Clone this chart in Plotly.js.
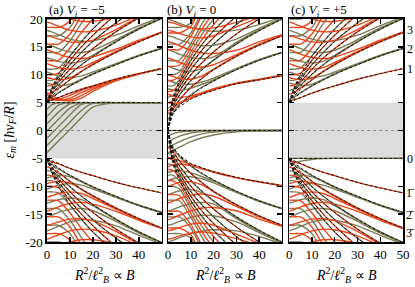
<!DOCTYPE html>
<html><head><meta charset="utf-8">
<script src="https://cdn.plot.ly/plotly-3.0.1.min.js"></script>
<style>html,body{margin:0;padding:0;background:#fff}</style>
</head><body><div id="chart" style="width:415px;height:287px"></div>
<script>
// field axis samples R^2/l_B^2
const xs = [0, 2, 5, 10, 15, 20, 30, 40, 50];

// ---- upper fan (panels a and c) ----
const upRed = [
 [5.3, 5.5, 5.9, 6.7, 7.4, 8.0, 9.2, 10.2, 11.1],
 [6.5, 6.8, 7.6, 9.1, 10.6, 11.8, 14.0, 15.9, 17.6],
 [8.0, 8.1, 8.8, 11.0, 13.0, 14.7, 17.7, 20.2, 22.5],
 [10.0, 10.0, 10.3, 12.6, 15.0, 17.1, 20.8, 23.9, 26.7],
 [12.5, 12.5, 12.6, 14.8, 17.6, 20.0, 24.5, 28.0, 31.0],
 [15.5, 15.5, 15.5, 17.3, 20.6, 23.5, 28.5, 33.0, 37.0],
 [18.5, 18.5, 18.5, 19.7, 23.3, 26.5, 32.0, 37.0, 41.0],
 [9.5, 9.3, 9.1, 9.4, 10.6, 11.9, 14.1, 16.0, 17.6],
 [12.0, 11.7, 11.3, 11.0, 11.3, 12.2, 14.2, 16.0, 17.6],
 [14.5, 14.2, 13.7, 13.1, 12.9, 13.2, 14.6, 16.2, 17.7],
 [17.0, 16.8, 16.4, 15.9, 15.8, 16.2, 18.1, 20.4, 22.6],
 [19.5, 19.2, 18.7, 18.0, 17.7, 17.8, 18.9, 20.7, 22.7],
 [21.5, 21.2, 20.7, 20.0, 19.6, 19.6, 20.3, 21.4, 23.0]
];
const upOlive = [
 [5.6, 6.0, 6.8, 8.0, 9.1, 10.1, 11.8, 13.4, 14.7],
 [7.2, 7.4, 8.2, 10.1, 11.8, 13.3, 15.9, 18.2, 20.1],
 [9.0, 9.0, 9.5, 11.8, 14.0, 16.0, 19.3, 22.1, 24.6],
 [11.0, 11.0, 11.2, 13.4, 15.9, 18.2, 22.0, 25.4, 28.4],
 [14.0, 14.0, 14.0, 16.1, 19.2, 21.9, 26.5, 30.5, 34.0],
 [17.0, 17.0, 17.0, 18.5, 22.0, 25.0, 30.5, 35.0, 39.0],
 [20.0, 20.0, 20.0, 20.8, 24.5, 28.0, 34.0, 39.0, 44.0],
 [8.5, 8.3, 8.0, 8.3, 9.2, 10.2, 11.9, 13.4, 14.7],
 [10.5, 10.2, 9.8, 9.5, 9.8, 10.5, 12.0, 13.5, 14.8],
 [13.0, 12.8, 12.4, 12.1, 12.4, 13.5, 16.0, 18.2, 20.1],
 [15.5, 15.2, 14.7, 14.1, 14.0, 14.4, 16.3, 18.4, 20.2],
 [18.0, 17.7, 17.2, 16.4, 16.0, 16.1, 17.1, 18.8, 20.4]
];
const upDash = [
 [5.0, 5.4, 5.9, 6.7, 7.4, 8.0, 9.2, 10.2, 11.1],
 [5.0, 5.7, 6.7, 8.0, 9.1, 10.1, 11.8, 13.4, 14.7],
 [5.0, 6.1, 7.4, 9.1, 10.6, 11.8, 14.0, 15.9, 17.6],
 [5.0, 6.4, 8.0, 10.1, 11.8, 13.3, 15.9, 18.2, 20.1],
 [5.0, 6.7, 8.6, 11.0, 13.0, 14.7, 17.7, 20.2, 22.5],
 [5.0, 7.0, 9.1, 11.8, 14.0, 16.0, 19.3, 22.1, 24.6],
 [5.0, 7.3, 9.6, 12.6, 15.0, 17.1, 20.8, 23.9, 26.7],
 [5.0, 7.5, 10.1, 13.3, 15.9, 18.2, 22.0, 25.4, 28.4]
];

// ---- lower fan (panels a and c) ----
const loRed = [
 [-5.4, -5.6, -6.0, -6.8, -7.5, -8.1, -9.3, -10.3, -11.2],
 [-6.5, -6.8, -7.6, -9.1, -10.5, -11.7, -13.9, -15.8, -17.5],
 [-8.0, -8.1, -8.8, -11.0, -13.0, -14.7, -17.7, -20.2, -22.5],
 [-10.0, -10.0, -10.3, -12.6, -15.0, -17.1, -20.8, -23.9, -26.7],
 [-12.5, -12.5, -12.6, -14.8, -17.6, -20.0, -24.5, -28.0, -31.0],
 [-15.5, -15.5, -15.5, -17.3, -20.6, -23.5, -28.5, -33.0, -37.0],
 [-18.5, -18.5, -18.5, -19.7, -23.3, -26.5, -32.0, -37.0, -41.0],
 [-9.5, -9.3, -9.1, -9.4, -10.6, -11.8, -14.0, -15.9, -17.5],
 [-12.0, -11.7, -11.3, -11.0, -11.3, -12.2, -14.1, -15.9, -17.5],
 [-14.5, -14.2, -13.7, -13.1, -12.9, -13.2, -14.5, -16.1, -17.6],
 [-17.0, -16.8, -16.4, -15.9, -15.8, -16.2, -18.1, -20.4, -22.6],
 [-19.5, -19.2, -18.7, -18.0, -17.7, -17.8, -18.9, -20.7, -22.7],
 [-21.5, -21.2, -20.7, -20.0, -19.6, -19.6, -20.3, -21.4, -23.0]
];
const loOlive = [
 [-5.7, -6.1, -6.9, -8.1, -9.1, -10.1, -11.8, -13.4, -14.7],
 [-7.2, -7.4, -8.2, -10.1, -11.8, -13.3, -15.9, -18.2, -20.1],
 [-9.0, -9.0, -9.5, -11.8, -14.0, -16.0, -19.3, -22.1, -24.6],
 [-11.0, -11.0, -11.2, -13.4, -15.9, -18.2, -22.0, -25.4, -28.4],
 [-14.0, -14.0, -14.0, -16.1, -19.2, -21.9, -26.5, -30.5, -34.0],
 [-17.0, -17.0, -17.0, -18.5, -22.0, -25.0, -30.5, -35.0, -39.0],
 [-20.0, -20.0, -20.0, -20.8, -24.5, -28.0, -34.0, -39.0, -44.0],
 [-8.5, -8.3, -8.0, -8.3, -9.2, -10.2, -11.9, -13.4, -14.7],
 [-10.5, -10.2, -9.8, -9.5, -9.8, -10.5, -12.0, -13.5, -14.8],
 [-13.0, -12.8, -12.4, -12.1, -12.4, -13.5, -16.0, -18.2, -20.1],
 [-15.5, -15.2, -14.7, -14.1, -14.0, -14.4, -16.3, -18.4, -20.2],
 [-18.0, -17.7, -17.2, -16.4, -16.0, -16.1, -17.1, -18.8, -20.4]
];
const loDash = [
 [-5.0, -5.4, -5.9, -6.8, -7.5, -8.1, -9.3, -10.3, -11.2],
 [-5.0, -5.7, -6.7, -8.0, -9.1, -10.1, -11.8, -13.4, -14.7],
 [-5.0, -6.1, -7.4, -9.1, -10.5, -11.7, -13.9, -15.8, -17.5],
 [-5.0, -6.4, -8.0, -10.1, -11.8, -13.3, -15.9, -18.2, -20.1],
 [-5.0, -6.7, -8.6, -11.0, -13.0, -14.7, -17.7, -20.2, -22.5],
 [-5.0, -7.0, -9.1, -11.8, -14.0, -16.0, -19.3, -22.1, -24.6],
 [-5.0, -7.3, -9.6, -12.6, -15.0, -17.1, -20.8, -23.9, -26.7],
 [-5.0, -7.5, -10.1, -13.3, -15.9, -18.2, -22.0, -25.4, -28.4]
];

// ---- panel b, upper ----
const bUpRed = [
 [3.5, 4.1, 4.8, 5.8, 6.6, 7.3, 8.4, 9.1, 9.8],
 [3.0, 3.8, 5.5, 7.7, 9.4, 10.9, 13.3, 15.3, 17.0],
 [5.0, 5.3, 7.1, 10.0, 12.2, 14.1, 17.3, 20.0, 22.4],
 [7.0, 7.1, 8.4, 11.8, 14.5, 16.7, 20.5, 23.7, 26.5],
 [9.0, 9.0, 9.8, 13.4, 16.4, 19.0, 23.2, 26.8, 30.0],
 [11.5, 11.5, 11.7, 14.9, 18.3, 21.1, 25.8, 29.8, 33.3],
 [14.5, 14.5, 14.5, 16.9, 20.7, 23.9, 29.2, 33.7, 37.7],
 [17.5, 17.5, 17.5, 18.7, 22.9, 26.4, 32.3, 37.3, 41.7],
 [5.0, 4.8, 5.0, 5.9, 6.7, 7.4, 8.4, 9.1, 9.9],
 [6.5, 6.2, 5.9, 6.2, 6.8, 7.5, 8.5, 9.2, 9.9],
 [10.0, 9.7, 9.3, 9.2, 9.8, 11.0, 13.4, 15.4, 17.1],
 [13.0, 12.7, 12.2, 11.6, 11.4, 11.8, 13.6, 15.5, 17.1],
 [16.0, 15.7, 15.2, 14.4, 13.9, 13.8, 14.4, 15.9, 17.2],
 [18.0, 17.8, 17.4, 16.8, 16.6, 17.0, 18.6, 20.3, 22.5],
 [19.5, 19.3, 18.9, 18.4, 18.2, 18.4, 19.4, 20.7, 22.6]
];
const bUpOlive = [
 [2.0, 3.2, 4.7, 6.4, 7.8, 8.9, 10.9, 12.6, 14.0],
 [4.0, 4.6, 6.4, 9.0, 11.0, 12.7, 15.5, 17.9, 20.0],
 [6.0, 6.2, 7.8, 11.0, 13.4, 15.5, 19.0, 21.9, 24.5],
 [8.0, 8.0, 9.1, 12.6, 15.5, 17.9, 21.9, 25.3, 28.3],
 [10.0, 10.0, 10.5, 14.1, 17.3, 20.0, 24.5, 28.3, 31.6],
 [12.5, 12.5, 12.6, 15.6, 19.2, 22.2, 27.0, 31.0, 35.0],
 [15.5, 15.5, 15.5, 17.5, 21.4, 24.8, 30.0, 35.0, 39.0],
 [18.5, 18.5, 18.5, 19.3, 23.5, 27.0, 33.0, 38.0, 43.0],
 [7.5, 7.3, 7.2, 7.6, 8.3, 9.1, 11.0, 12.7, 14.0],
 [9.0, 8.7, 8.4, 8.3, 8.7, 9.4, 11.1, 12.7, 14.0],
 [11.5, 11.2, 10.8, 10.6, 11.2, 12.6, 15.6, 18.0, 20.0],
 [14.5, 14.2, 13.7, 13.1, 12.9, 13.2, 15.8, 18.1, 20.1],
 [17.0, 16.8, 16.3, 15.6, 15.2, 15.3, 16.4, 18.3, 20.2],
 [20.0, 19.7, 19.2, 18.5, 18.0, 17.8, 18.0, 19.0, 20.4]
];
const bUpDash = [
 [0, 2.9, 4.2, 5.6, 6.5, 7.2, 8.4, 9.1, 9.8],
 [0, 2.8, 4.5, 6.3, 7.7, 8.9, 10.9, 12.6, 14.0],
 [0, 3.5, 5.5, 7.7, 9.4, 10.9, 13.3, 15.3, 17.0],
 [0, 4.0, 6.3, 8.9, 10.9, 12.6, 15.5, 17.9, 20.0],
 [0, 4.5, 7.1, 10.0, 12.2, 14.1, 17.3, 20.0, 22.4],
 [0, 4.9, 7.7, 10.9, 13.4, 15.5, 19.0, 21.9, 24.5],
 [0, 5.3, 8.4, 11.8, 14.5, 16.7, 20.5, 23.7, 26.5],
 [0, 5.7, 8.9, 12.6, 15.5, 17.9, 21.9, 25.3, 28.3]
];

// ---- panel b, lower ----
const bLoRed = [
 [-4.8, -5.0, -5.4, -6.1, -6.8, -7.4, -8.4, -9.2, -9.9],
 [-3.0, -3.8, -5.5, -7.7, -9.4, -10.9, -13.3, -15.3, -17.0],
 [-5.0, -5.3, -7.1, -10.0, -12.2, -14.1, -17.3, -20.0, -22.4],
 [-7.0, -7.1, -8.4, -11.8, -14.5, -16.7, -20.5, -23.7, -26.5],
 [-9.0, -9.0, -9.8, -13.4, -16.4, -19.0, -23.2, -26.8, -30.0],
 [-11.5, -11.5, -11.7, -14.9, -18.3, -21.1, -25.8, -29.8, -33.3],
 [-14.5, -14.5, -14.5, -16.9, -20.7, -23.9, -29.2, -33.7, -37.7],
 [-17.5, -17.5, -17.5, -18.7, -22.9, -26.4, -32.3, -37.3, -41.7],
 [-6.5, -6.2, -6.0, -6.3, -6.9, -7.5, -8.5, -9.2, -9.9],
 [-10.0, -9.7, -9.3, -9.2, -9.8, -11.0, -13.4, -15.4, -17.1],
 [-13.0, -12.7, -12.2, -11.6, -11.4, -11.8, -13.6, -15.5, -17.1],
 [-16.0, -15.7, -15.2, -14.4, -13.9, -13.8, -14.4, -15.9, -17.2],
 [-18.0, -17.8, -17.4, -16.8, -16.6, -17.0, -18.6, -20.3, -22.5],
 [-19.5, -19.3, -18.9, -18.4, -18.2, -18.4, -19.4, -20.7, -22.6]
];
const bLoOlive = [
 [-2.0, -3.2, -4.7, -6.4, -7.8, -8.9, -10.9, -12.6, -14.0],
 [-4.0, -4.6, -6.4, -9.0, -11.0, -12.7, -15.5, -17.9, -20.0],
 [-6.0, -6.2, -7.8, -11.0, -13.4, -15.5, -19.0, -21.9, -24.5],
 [-8.0, -8.0, -9.1, -12.6, -15.5, -17.9, -21.9, -25.3, -28.3],
 [-10.0, -10.0, -10.5, -14.1, -17.3, -20.0, -24.5, -28.3, -31.6],
 [-12.5, -12.5, -12.6, -15.6, -19.2, -22.2, -27.0, -31.0, -35.0],
 [-15.5, -15.5, -15.5, -17.5, -21.4, -24.8, -30.0, -35.0, -39.0],
 [-18.5, -18.5, -18.5, -19.3, -23.5, -27.0, -33.0, -38.0, -43.0],
 [-7.5, -7.3, -7.2, -7.6, -8.3, -9.1, -11.0, -12.7, -14.0],
 [-9.0, -8.7, -8.4, -8.3, -8.7, -9.4, -11.1, -12.7, -14.0],
 [-11.5, -11.2, -10.8, -10.6, -11.2, -12.6, -15.6, -18.0, -20.0],
 [-14.5, -14.2, -13.7, -13.1, -12.9, -13.2, -15.8, -18.1, -20.1],
 [-17.0, -16.8, -16.3, -15.6, -15.2, -15.3, -16.4, -18.3, -20.2],
 [-20.0, -19.7, -19.2, -18.5, -18.0, -17.8, -18.0, -19.0, -20.4]
];
const bLoDash = [
 [0, -3.0, -4.4, -5.9, -6.7, -7.4, -8.4, -9.2, -9.9],
 [0, -2.8, -4.5, -6.3, -7.7, -8.9, -10.9, -12.6, -14.0],
 [0, -3.5, -5.5, -7.7, -9.4, -10.9, -13.3, -15.3, -17.0],
 [0, -4.0, -6.3, -8.9, -10.9, -12.6, -15.5, -17.9, -20.0],
 [0, -4.5, -7.1, -10.0, -12.2, -14.1, -17.3, -20.0, -22.4],
 [0, -4.9, -7.7, -10.9, -13.4, -15.5, -19.0, -21.9, -24.5],
 [0, -5.3, -8.4, -11.8, -14.5, -16.7, -20.5, -23.7, -26.5],
 [0, -5.7, -8.9, -12.6, -15.5, -17.9, -21.9, -25.3, -28.3]
];

// ---- zero-level features ----
const aBandOlive = [
 [3.8, 4.6, 4.98, 5.0, 5.0, 5.0, 5.0, 5.0, 5.0],
 [2.5, 3.35, 4.55, 5.0, 5.0, 5.0, 5.0, 5.0, 5.0],
 [1.2, 2.05, 3.3, 4.8, 5.0, 5.0, 5.0, 5.0, 5.0],
 [-0.1, 0.75, 2.0, 4.0, 4.95, 5.0, 5.0, 5.0, 5.0],
 [-1.4, -0.55, 0.7, 2.8, 4.7, 5.0, 5.0, 5.0, 5.0],
 [-2.7, -1.85, -0.6, 1.5, 3.6, 4.9, 5.0, 5.0, 5.0],
 [-4.0, -3.15, -1.9, 0.2, 2.3, 4.2, 5.0, 5.0, 5.0]
];
const aEdgeRed = [
 [5.6, 5.5, 5.6, 6.3, 7.2, 7.9, 9.2, 10.2, 11.1],
 [5.9, 5.6, 5.4, 5.8, 6.8, 7.7, 9.1, 10.2, 11.1],
 [6.3, 5.9, 5.5, 5.5, 6.3, 7.4, 9.0, 10.1, 11.1],
 [6.8, 6.3, 5.7, 5.3, 5.8, 7.0, 8.9, 10.1, 11.1]
];
const bZeroOlive = [
 [-1.0, -0.6, -0.3, -0.1, -0.03, 0, 0, 0, 0],
 [-2.0, -1.6, -1.0, -0.45, -0.2, -0.08, 0, 0, 0],
 [-3.0, -2.6, -2.0, -1.2, -0.6, -0.3, -0.06, 0, 0],
 [-4.0, -3.6, -3.0, -2.0, -1.3, -0.8, -0.25, -0.06, 0]
];
const cEdgeOlive = [
 [-6.0, -5.8, -5.5, -5.2, -5.05, -5.0, -5.0, -5.0, -5.0]
];
const zeroLevel = [5, 0, -5];       // n=0 Landau level per panel
const gap = [-5, 5];                 // shaded band
const panelTitles = ['(a) <i>V<sub>i</sub></i> = \u22125', '(b) <i>V<sub>i</sub></i> = 0', '(c) <i>V<sub>i</sub></i> = +5'];
const rightLabels = ['3', '2', '1', '0', '1\u0304', '2\u0304', '3\u0304'];
const rightLabelY = [18.1, 14.6, 11.1, -5.2, -11.2, -15.2, -18.4];
const yTicks = [-20, -15, -10, -5, 0, 5, 10, 15, 20];
const yTickText = ['-20', '-15', '-10', '-5', '0', '5', '10', '15', '20'];
const xTicksAB = [0, 10, 20, 30, 40];
const xTicksC = [0, 10, 20, 30, 40, 50];

const RED = '#e4471c', OLIVE = '#7b7b58';
const F = 'Liberation Serif';
const traces = [];
function add(list, color, k, w, dash) {
  const s = k === 1 ? '' : String(k);
  list.forEach(ys => traces.push({
    type: 'scatter', mode: 'lines', x: xs, y: ys, xaxis: 'x' + s, yaxis: 'y' + s,
    line: {color: color, width: w, dash: dash || 'solid', shape: 'spline', smoothing: 0.8},
    hoverinfo: 'skip', showlegend: false
  }));
}
const DASH = '3px,2px';
// panel a
add(aBandOlive, OLIVE, 1, 1.4);
add(upOlive, OLIVE, 1, 1.4); add(loOlive, OLIVE, 1, 1.4);
add(aEdgeRed, RED, 1, 1.4);
add(upRed, RED, 1, 1.4); add(loRed, RED, 1, 1.4);
add(upDash, '#111', 1, 1, DASH); add(loDash, '#111', 1, 1, DASH);
// panel b
add(bZeroOlive, OLIVE, 2, 1.4);
add(bUpOlive, OLIVE, 2, 1.4); add(bLoOlive, OLIVE, 2, 1.4);
add(bUpRed, RED, 2, 1.4); add(bLoRed, RED, 2, 1.4);
add(bUpDash, '#111', 2, 1, DASH); add(bLoDash, '#111', 2, 1, DASH);
// panel c
add(cEdgeOlive, OLIVE, 3, 1.4);
add(upOlive, OLIVE, 3, 1.4); add(loOlive, OLIVE, 3, 1.4);
add(upRed, RED, 3, 1.4); add(loRed, RED, 3, 1.4);
add(upDash, '#111', 3, 1, DASH); add(loDash, '#111', 3, 1, DASH);

const domains = [[0, 0.3225], [0.3402, 0.6598], [0.6803, 1]];
function xa(i) {
  const tv = i === 2 ? xTicksC : xTicksAB;
  return {domain: domains[i], range: [0, 50], tickvals: tv, ticktext: tv.map(String),
    ticks: 'inside', ticklen: 5, tickwidth: 1.3, tickcolor: '#000', showline: true, linecolor: '#000',
    linewidth: 1.6, mirror: 'allticks', showgrid: false, zeroline: false, anchor: i === 0 ? 'y' : 'y' + (i + 1),
    tickfont: {family: F, size: 13, color: '#000'}, fixedrange: true};
}
function ya(i) {
  return {domain: [0, 1], range: [-20, 20], tickvals: yTicks, ticktext: yTickText,
    ticks: 'inside', ticklen: 5, tickwidth: 1.3, tickcolor: '#000', showline: true, linecolor: '#000',
    linewidth: 1.6, mirror: 'allticks', showgrid: false, zeroline: false, showticklabels: i === 0,
    anchor: i === 0 ? 'x' : 'x' + (i + 1), tickfont: {family: F, size: 13, color: '#000'}, fixedrange: true};
}
const shapes = [];
[0, 2].forEach(i => {
  const s = i === 0 ? '' : String(i + 1);
  shapes.push({type: 'rect', xref: 'x' + s, yref: 'y' + s, x0: 0, x1: 50, y0: gap[0], y1: gap[1],
    fillcolor: '#dcdcdc', line: {width: 0}, layer: 'below'});
  shapes.push({type: 'line', xref: 'x' + s, yref: 'y' + s, x0: 0, x1: 50, y0: 0, y1: 0,
    line: {color: '#777', width: 0.8, dash: 'dot'}, layer: 'below'});
});
[0, 1, 2].forEach(i => {
  const s = i === 0 ? '' : String(i + 1);
  shapes.push({type: 'line', xref: 'x' + s, yref: 'y' + s, x0: 0, x1: 50, y0: zeroLevel[i], y1: zeroLevel[i],
    line: {color: OLIVE, width: 1.4}, layer: 'above'});
  shapes.push({type: 'line', xref: 'x' + s, yref: 'y' + s, x0: 0, x1: 50, y0: zeroLevel[i], y1: zeroLevel[i],
    line: {color: '#111', width: 1, dash: DASH}, layer: 'above'});
});
const ann = [];
[0, 1, 2].forEach(i => {
  ann.push({xref: 'paper', yref: 'paper', x: domains[i][0], y: 1, xanchor: 'left', yanchor: 'bottom',
    xshift: i === 1 ? -3 : 0, yshift: -2, text: panelTitles[i], showarrow: false, font: {family: F, size: 13, color: '#000'}});
  ann.push({xref: 'paper', yref: 'paper', x: (domains[i][0] + domains[i][1]) / 2, y: 0, xanchor: 'center', yanchor: 'middle',
    yshift: -33, text: '<i>R</i><sup>2</sup>/<i>\u2113</i><sup>2</sup><sub><i>B</i></sub> \u221d <i>B</i>', showarrow: false,
    font: {family: F, size: 14, color: '#000'}});
});
ann.push({xref: 'paper', yref: 'paper', x: 0, y: 0.5, xshift: -37, xanchor: 'center', yanchor: 'middle', textangle: -90,
  text: '<i>\u03b5<sub>m</sub></i> [<i>\u0127v<sub>F</sub></i>/<i>R</i>]', showarrow: false, font: {family: F, size: 14, color: '#000'}});
rightLabels.forEach((t, j) => ann.push({xref: 'paper', yref: 'y3', x: 1, y: rightLabelY[j], xshift: 7, xanchor: 'center',
  yanchor: 'middle', text: t, showarrow: false, font: {family: F, size: 12, color: '#000'}}));

const layout = {width: 415, height: 287, margin: {l: 46.7, r: 11.7, t: 18.5, b: 45},
  paper_bgcolor: '#fff', plot_bgcolor: 'rgba(0,0,0,0)', showlegend: false, hovermode: false,
  xaxis: xa(0), xaxis2: xa(1), xaxis3: xa(2), yaxis: ya(0), yaxis2: ya(1), yaxis3: ya(2),
  shapes: shapes, annotations: ann};
Plotly.newPlot('chart', traces, layout, {displayModeBar: false, staticPlot: true});
</script></body></html>
